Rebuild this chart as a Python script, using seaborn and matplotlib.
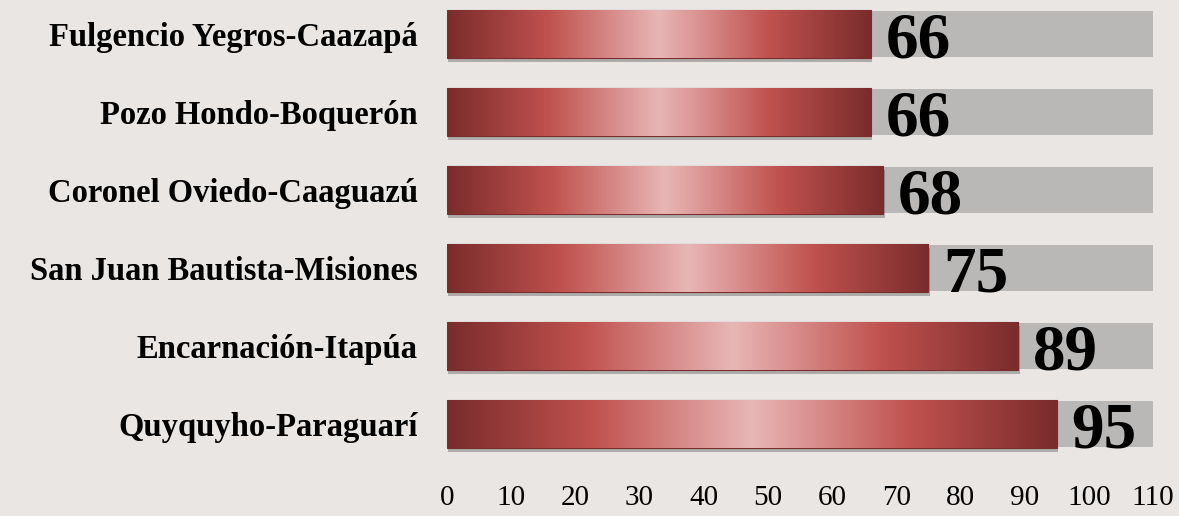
import numpy as np
import pandas as pd
import seaborn as sns
import matplotlib.pyplot as plt
from matplotlib.colors import LinearSegmentedColormap
import matplotlib.patheffects as pe

# ----------------------------------------
# DATA
# ----------------------------------------
places = ["Fulgencio Yegros-Caazapá", "Pozo Hondo-Boquerón", "Coronel Oviedo-Caaguazú",
          "San Juan Bautista-Misiones", "Encarnación-Itapúa", "Quyquyho-Paraguarí"]
values = [66, 66, 68, 75, 89, 95]
full_scale = [110, 110, 110, 110, 110, 110]
x_ticks = [0, 10, 20, 30, 40, 50, 60, 70, 80, 90, 100, 110]

df = pd.DataFrame({"place": places, "value": values, "full": full_scale})

BG = "#e9e6e4"
sns.set_style("white")
plt.rcParams["font.family"] = ["Liberation Serif", "DejaVu Serif"]

fig = plt.figure(figsize=(11.79, 5.16), dpi=100, facecolor=BG)
ax = fig.add_axes([447 / 1179, 1 - 470 / 516, (1153 - 447) / 1179, 470 / 516])
ax.set_facecolor(BG)

# grey background bars (full scale) then the red bars on top
sns.barplot(data=df, x="full", y="place", color="#b9b8b7", width=0.6,
            saturation=1, linewidth=0, ax=ax, zorder=1)
n_grey = len(ax.patches)
sns.barplot(data=df, x="value", y="place", color="#c0504d", width=0.62,
            saturation=1, ax=ax, zorder=2)
red_bars = ax.patches[n_grey:]

# gradient fill for red bars
cmap = LinearSegmentedColormap.from_list("shine", [
    (0.0, "#7a2c2c"), (0.24, "#c0524e"), (0.5, "#e8b6b6"),
    (0.76, "#c0524e"), (1.0, "#7a2c2c")])
grad = np.linspace(0, 1, 256).reshape(1, -1)
for bar in red_bars:
    bar.set_edgecolor("#7a2c2c")
    bar.set_linewidth(0.8)
    bar.set_path_effects([pe.SimplePatchShadow(offset=(1, -3), shadow_rgbFace="#555555", alpha=0.4),
                          pe.Normal()])
    x0, y0 = bar.get_x(), bar.get_y()
    w, h = bar.get_width(), bar.get_height()
    im = ax.imshow(grad, cmap=cmap, aspect="auto", extent=[x0, x0 + w, y0 + h, y0],
                   zorder=2.5, interpolation="bicubic")
    im.set_clip_path(bar)

# value labels
for i, v in enumerate(values):
    ax.text(v + 2.3, i + 0.09, str(v), ha="left", va="center",
            fontsize=47, fontweight="bold", color="black", zorder=4)

ax.set_xlim(0, 110)
ax.set_ylim(5.59, -0.436)
ax.set_xticks(x_ticks)
ax.set_xticklabels([str(t) for t in x_ticks], fontsize=21, color="black")
ax.set_yticks(range(len(places)))
ax.set_yticklabels(places, fontsize=23.5, fontweight="bold", color="black")
ax.tick_params(axis="x", length=0, pad=11)
ax.tick_params(axis="y", length=0, pad=21)
ax.set_xlabel("")
ax.set_ylabel("")
for s in ax.spines.values():
    s.set_visible(False)

fig.savefig("out.png", dpi=100, facecolor=BG)
